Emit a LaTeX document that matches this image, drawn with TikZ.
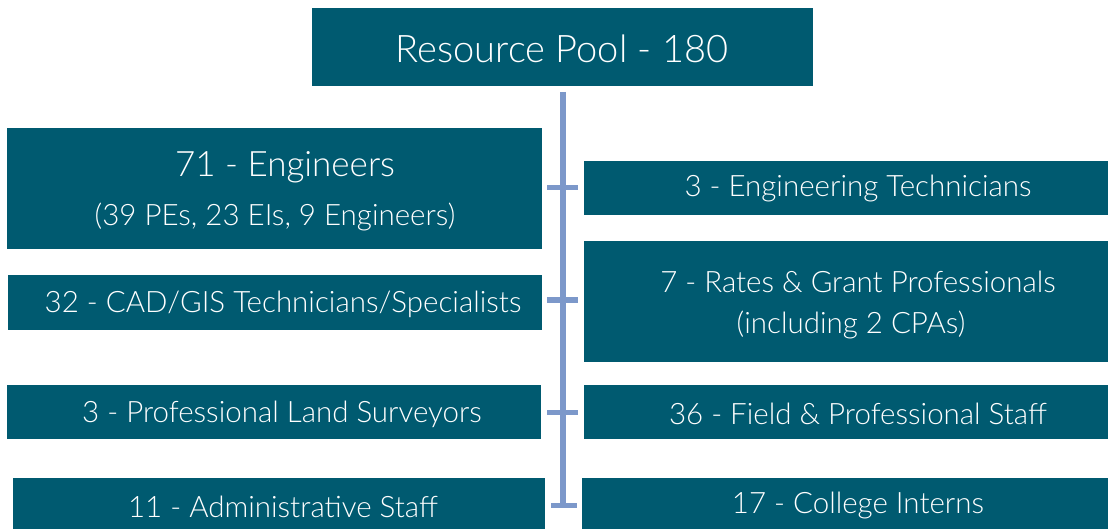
\documentclass[tikz,border=0pt]{standalone}
\usepackage{fontspec}
\setmainfont{Lato Light}
\begin{document}
\definecolor{boxteal}{RGB}{0,90,112}
\definecolor{trunkblue}{RGB}{124,152,202}
\begin{tikzpicture}[x=1pt,y=-1pt,
  box/.style={fill=boxteal, draw=none, inner sep=0pt, anchor=north west},
  txt/.style={text=white, inner sep=0pt, anchor=center},
  body/.style={txt, font=\fontsize{29.5}{34}\selectfont},
  conn/.style={draw=trunkblue, line width=6pt},
  tick/.style={draw=trunkblue, line width=5pt}]
\useasboundingbox (0,0) rectangle (1108,529);
% boxes: top-left corner, width and height
\node[box, minimum width=501pt, minimum height=78pt] (pool) at (312,8) {};
\node[box, minimum width=535pt, minimum height=121pt] (eng) at (7,128) {};
\node[box, minimum width=534pt, minimum height=55pt] (cad) at (8,275) {};
\node[box, minimum width=534pt, minimum height=54pt] (pls) at (7,385) {};
\node[box, minimum width=532pt, minimum height=60pt] (adm) at (13,478) {};
\node[box, minimum width=530pt, minimum height=54pt] (etech) at (584,161) {};
\node[box, minimum width=530pt, minimum height=121pt] (rates) at (584,241) {};
\node[box, minimum width=530pt, minimum height=54pt] (field) at (584,385) {};
\node[box, minimum width=532pt, minimum height=60pt] (intern) at (582,478) {};
% labels
\node[txt, font=\fontsize{38}{44}\selectfont] (tpool) at (562,49) {Resource Pool - 180};
\node[txt, font=\fontsize{35}{40}\selectfont] (teng) at (285,167) {71 - Engineers};
\node[body] (teng2) at (275,217) {(39 PEs, 23 EIs, 9 Engineers)};
\node[body] (tcad) at (283,304) {32 - CAD/GIS Technicians/Specialists};
\node[body] (tpls) at (282,414) {3 - Professional Land Surveyors};
\node[body] (tadm) at (283,507) {11 - Administrative Staff};
\node[body] (tetech) at (858,189) {3 - Engineering Technicians};
\node[body] (trates) at (858,282) {7 - Rates \& Grant Professionals};
\node[body] (trates2) at (851,325) {(including 2 CPAs)};
\node[body] (tfield) at (858,414) {36 - Field \& Professional Staff};
\node[body] (tintern) at (858,506) {17 - College Interns};
% trunk and its cross bars
\coordinate (trunktop) at (562.5,92);
\coordinate (trunkend) at (562.5,505);
\draw[conn] (trunktop) -- (trunkend);
\coordinate (t1l) at (547,188); \coordinate (t1r) at (578,188);
\coordinate (t2l) at (547,300); \coordinate (t2r) at (578,300);
\coordinate (t3l) at (547,412); \coordinate (t3r) at (578,412);
\coordinate (t4l) at (551,505); \coordinate (t4r) at (577,505);
\draw[tick] (t1l) -- (t1r);
\draw[tick] (t2l) -- (t2r);
\draw[tick] (t3l) -- (t3r);
\draw[tick] (t4l) -- (t4r);
\end{tikzpicture}
\end{document}
